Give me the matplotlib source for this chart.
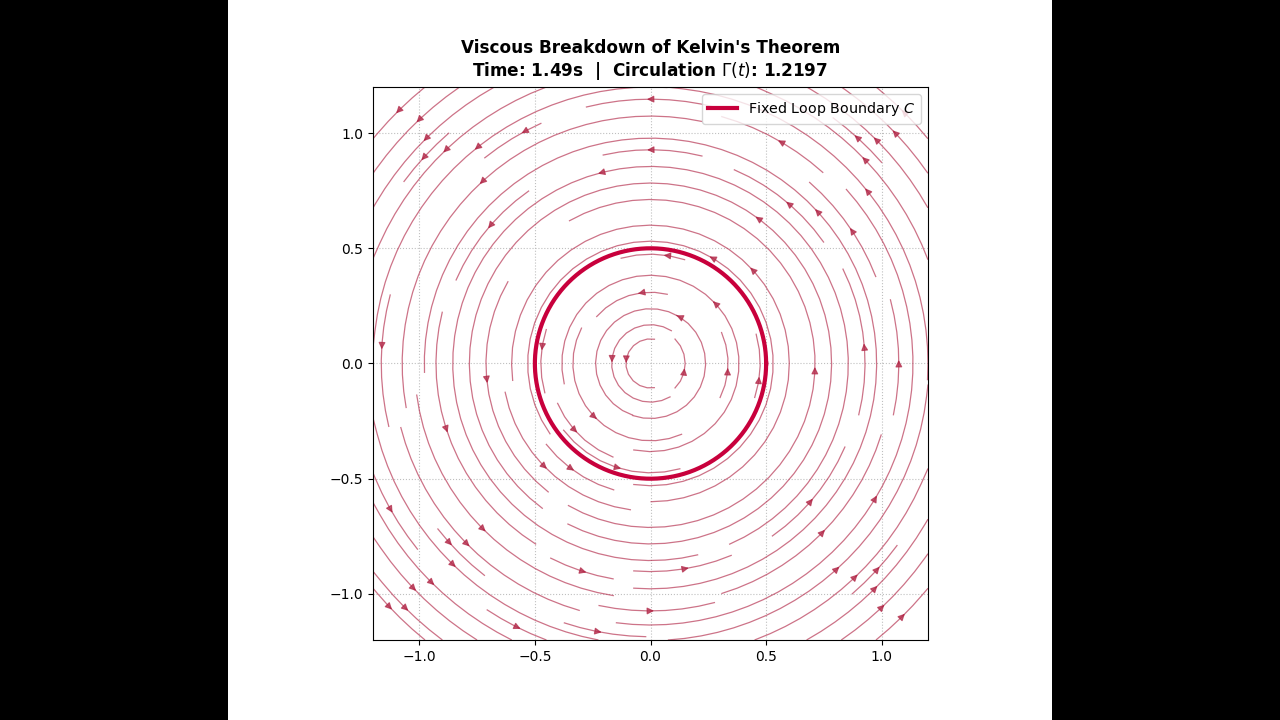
import numpy as np
import matplotlib
matplotlib.use("Agg")
import matplotlib.pyplot as plt
from matplotlib.patches import Rectangle

# Parameters / data
time_s = 1.49
circulation = 1.2197
loop_radius = 0.5
gamma0 = 2.0
nu = 0.0446
xlim = [-1.2, 1.2]
ylim = [-1.2, 1.2]
ticks = [-1.0, -0.5, 0.0, 0.5, 1.0]
grid_n = 100

fig = plt.figure(figsize=(12.8, 7.2), dpi=100, facecolor="black")
fig.add_artist(Rectangle((228 / 1280, 0), (1052 - 228) / 1280, 1, transform=fig.transFigure,
                         facecolor="white", edgecolor="none", zorder=0))

ax = fig.add_axes([373 / 1280, 1 - 640 / 720, (928 - 373) / 1280, (640 - 87) / 720])

x = np.linspace(xlim[0], xlim[1], grid_n)
y = np.linspace(ylim[0], ylim[1], grid_n)
X, Y = np.meshgrid(x, y)
R2 = X**2 + Y**2 + 1e-12
vth_over_r = gamma0 / (2 * np.pi * R2) * (1 - np.exp(-R2 / (4 * nu * time_s)))
U = -Y * vth_over_r
V = X * vth_over_r
core = R2 < 0.03**2
U = np.where(core, np.nan, U)
V = np.where(core, np.nan, V)

ax.streamplot(X, Y, U, V, color="#b22848", linewidth=0.9, density=1.1, arrowsize=1.0)
for coll in ax.collections:
    coll.set_alpha(0.65)
for p in ax.patches:
    p.set_alpha(0.75)

th = np.linspace(0, 2 * np.pi, 400)
ax.plot(loop_radius * np.cos(th), loop_radius * np.sin(th), color="#c8003c", lw=3,
        label="Fixed Loop Boundary $C$", zorder=5)

ax.set_xlim(xlim)
ax.set_ylim(ylim)
ax.set_xticks(ticks)
ax.set_yticks(ticks)
ax.grid(True, linestyle=":", color="#b0b0b0", alpha=0.8)
ax.set_axisbelow(True)
ax.legend(loc="upper right", fontsize=10.3)
ax.set_title("Viscous Breakdown of Kelvin's Theorem\n"
             f"Time: {time_s:.2f}s  |  Circulation $\\Gamma(t)$: {circulation:.4f}",
             fontsize=12.2, fontweight="bold", pad=8)

fig.savefig("out.png", dpi=100, facecolor="black")
